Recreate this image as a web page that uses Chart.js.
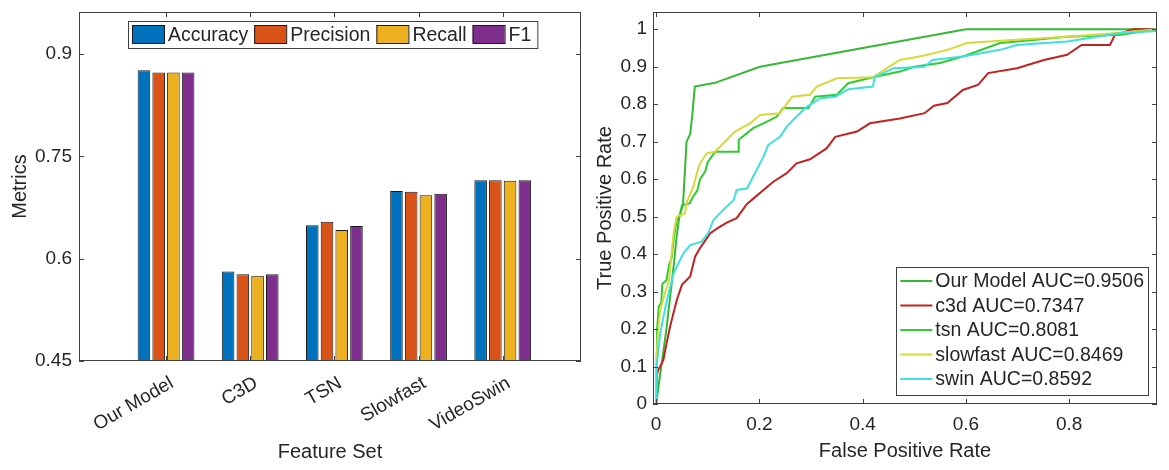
<!DOCTYPE html>
<html>
<head>
<meta charset="utf-8">
<script src="https://cdn.jsdelivr.net/npm/chart.js@4/dist/chart.umd.min.js"></script>
<style>
	body { margin: 0; background: #ffffff; }
	#barBox { position: absolute; left: 0; top: 0; width: 585px; height: 470px; }
	#rocBox { position: absolute; left: 585px; top: 0; width: 584px; height: 470px; }
</style>
</head>
<body>
<div id="barBox"><canvas id="barChart" width="585" height="470"></canvas></div>
<div id="rocBox"><canvas id="rocChart" width="584" height="470"></canvas></div>
<script>
// left panel: metrics per feature set
var featureSets = ["Our Model", "C3D", "TSN", "Slowfast", "VideoSwin"];
var metricNames = ["Accuracy", "Precision", "Recall", "F1"];
var accuracy  = [0.876, 0.581, 0.649, 0.699, 0.715];
var precision = [0.873, 0.577, 0.654, 0.698, 0.715];
var recall    = [0.873, 0.575, 0.642, 0.693, 0.714];
var f1        = [0.873, 0.577, 0.648, 0.695, 0.715];
var metricTicks = [0.45, 0.6, 0.75, 0.9];

// right panel: ROC curves, [fpr, tpr]
var rocNames = ["Our Model", "c3d", "tsn", "slowfast", "swin"];
var aucValues = [0.9506, 0.7347, 0.8081, 0.8469, 0.8592];
var ourModelRoc = [[0,0],[0.02,0.2],[0.035,0.38],[0.04,0.45],[0.045,0.5],[0.052,0.53],[0.059,0.7],[0.066,0.72],[0.07,0.77],[0.075,0.847],[0.114,0.857],[0.201,0.9],[0.6,1],[0.97,1]];
var c3dRoc = [[0,0],[0.002,0.08],[0.004,0.09],[0.014,0.117],[0.02,0.16],[0.027,0.206],[0.035,0.25],[0.04,0.277],[0.05,0.318],[0.066,0.34],[0.0755,0.393],[0.085,0.416],[0.105,0.456],[0.12,0.47],[0.137,0.484],[0.156,0.496],[0.176,0.534],[0.19,0.55],[0.208,0.571],[0.227,0.593],[0.253,0.616],[0.272,0.642],[0.298,0.653],[0.33,0.682],[0.347,0.713],[0.389,0.727],[0.414,0.749],[0.472,0.762],[0.52,0.776],[0.538,0.796],[0.564,0.803],[0.594,0.838],[0.624,0.852],[0.643,0.883],[0.699,0.896],[0.751,0.918],[0.796,0.932],[0.824,0.958],[0.879,0.958],[0.888,0.984],[0.924,1],[0.97,1]];
var tsnRoc = [[0,0],[0.002,0.2],[0.005,0.26],[0.01,0.27],[0.012,0.32],[0.02,0.33],[0.025,0.37],[0.03,0.39],[0.035,0.45],[0.04,0.49],[0.045,0.5],[0.05,0.53],[0.065,0.535],[0.07,0.55],[0.08,0.57],[0.085,0.6],[0.095,0.62],[0.1,0.645],[0.11,0.665],[0.115,0.673],[0.159,0.673],[0.16,0.705],[0.188,0.736],[0.21,0.75],[0.234,0.767],[0.246,0.79],[0.295,0.79],[0.308,0.82],[0.35,0.825],[0.372,0.856],[0.42,0.872],[0.472,0.887],[0.5,0.9],[0.55,0.91],[0.6,0.93],[0.666,0.963],[0.72,0.97],[0.795,0.98],[0.9,0.985],[0.97,1]];
var slowfastRoc = [[0,0],[0,0.1],[0.004,0.2],[0.008,0.251],[0.017,0.295],[0.025,0.33],[0.03,0.4],[0.034,0.456],[0.04,0.5],[0.056,0.509],[0.06,0.54],[0.072,0.58],[0.079,0.616],[0.085,0.642],[0.098,0.669],[0.114,0.673],[0.137,0.705],[0.153,0.727],[0.182,0.749],[0.201,0.771],[0.24,0.776],[0.263,0.82],[0.298,0.825],[0.311,0.847],[0.35,0.869],[0.42,0.872],[0.472,0.918],[0.52,0.93],[0.564,0.945],[0.602,0.963],[0.666,0.969],[0.796,0.98],[0.893,0.99],[0.97,1]];
var swinRoc = [[0,0],[0.001,0.1],[0.008,0.189],[0.021,0.278],[0.034,0.349],[0.043,0.375],[0.053,0.402],[0.066,0.424],[0.088,0.433],[0.101,0.456],[0.111,0.491],[0.13,0.518],[0.15,0.544],[0.156,0.571],[0.176,0.575],[0.188,0.607],[0.208,0.66],[0.217,0.691],[0.24,0.713],[0.253,0.74],[0.272,0.767],[0.292,0.793],[0.318,0.816],[0.347,0.82],[0.372,0.84],[0.42,0.847],[0.423,0.872],[0.46,0.896],[0.52,0.9],[0.535,0.918],[0.594,0.927],[0.666,0.945],[0.699,0.958],[0.796,0.967],[0.9,0.99],[0.97,0.995]];
var rocXTicks = [0, 0.2, 0.4, 0.6, 0.8];
var rocYTicks = [0, 0.1, 0.2, 0.3, 0.4, 0.5, 0.6, 0.7, 0.8, 0.9, 1];

var barColors = ["#0072BD", "#D95319", "#EDB120", "#7E2F8E"];
var rocColors = ["#36b836", "#c42222", "#2fcc2f", "#d8d83a", "#3ee0e0"];
var textColor = "#262626";
var frameColor = "#404040";
var fontFamily = "'Liberation Sans', Arial, sans-serif";

Chart.defaults.font.family = fontFamily;
Chart.defaults.color = textColor;

// Chart.js reserves room for half a label at the ends; the frame here does not need it
function noEdgePadding(axis)
{
	axis.paddingTop = 0;
	axis.paddingBottom = 0;
	axis.paddingLeft = 0;
	axis.paddingRight = 0;
}

function drawFrame(chart, xTicks, yTicks)
{
	var ctx = chart.ctx;
	var a = chart.chartArea;
	var xs = chart.scales.x;
	var ys = chart.scales.y;
	ctx.save();
	ctx.strokeStyle = frameColor;
	ctx.lineWidth = 1;
	ctx.strokeRect(a.left + 0.5, a.top + 0.5, a.right - a.left - 1, a.bottom - a.top - 1);
	ctx.beginPath();
	xTicks.forEach(function(v)
	{
		var px = Math.round(xs.getPixelForValue(v)) + 0.5;
		ctx.moveTo(px, a.bottom); ctx.lineTo(px, a.bottom - 5);
		ctx.moveTo(px, a.top); ctx.lineTo(px, a.top + 5);
	});
	yTicks.forEach(function(v)
	{
		var py = Math.round(ys.getPixelForValue(v)) + 0.5;
		ctx.moveTo(a.left, py); ctx.lineTo(a.left + 5, py);
		ctx.moveTo(a.right, py); ctx.lineTo(a.right - 5, py);
	});
	ctx.stroke();
	ctx.restore();
}

var barFrame = {
	id: "barFrame",
	afterDatasetsDraw: function(chart)
	{
		drawFrame(chart, featureSets.map(function(n, i) { return i + 1; }), metricTicks);
	},
	afterDraw: function(chart)
	{
		// legend box on top of the plot
		var ctx = chart.ctx;
		var a = chart.chartArea;
		ctx.save();
		ctx.font = "19.5px " + fontFamily;
		var left = a.left + 49, top = a.top + 9, height = 27;
		var x = left + 4;
		var items = [];
		metricNames.forEach(function(name, i)
		{
			items.push({ x: x, name: name, color: barColors[i] });
			x += 32 + 4 + ctx.measureText(name).width + 6;
		});
		var right = x;
		ctx.fillStyle = "#ffffff";
		ctx.fillRect(left, top, right - left, height);
		ctx.strokeStyle = frameColor;
		ctx.lineWidth = 1;
		ctx.strokeRect(left + 0.5, top + 0.5, right - left, height);
		items.forEach(function(it)
		{
			ctx.fillStyle = it.color;
			ctx.fillRect(it.x, top + 4, 32, 18);
			ctx.strokeStyle = "#1a1a1a";
			ctx.strokeRect(it.x + 0.5, top + 4.5, 32, 18);
			ctx.fillStyle = textColor;
			ctx.textBaseline = "middle";
			ctx.fillText(it.name, it.x + 36, top + height / 2 + 1);
		});
		ctx.restore();
	}
};

var rocFrame = {
	id: "rocFrame",
	afterDatasetsDraw: function(chart)
	{
		drawFrame(chart, rocXTicks, rocYTicks);
	},
	afterDraw: function(chart)
	{
		var ctx = chart.ctx;
		var a = chart.chartArea;
		ctx.save();
		ctx.font = "19.5px " + fontFamily;
		var labels = rocNames.map(function(n, i) { return n + " AUC=" + aucValues[i].toFixed(4); });
		var maxW = 0;
		labels.forEach(function(l) { maxW = Math.max(maxW, ctx.measureText(l).width); });
		var right = a.right - 9, bottom = a.bottom - 9;
		var width = 39 + maxW + 4, height = 128;
		var left = right - width, top = bottom - height;
		ctx.fillStyle = "#ffffff";
		ctx.fillRect(left, top, width, height);
		ctx.strokeStyle = frameColor;
		ctx.lineWidth = 1;
		ctx.strokeRect(Math.round(left) + 0.5, top + 0.5, Math.round(width), height);
		labels.forEach(function(l, i)
		{
			var y = top + 14 + i * 24.5;
			ctx.strokeStyle = rocColors[i];
			ctx.lineWidth = 2;
			ctx.beginPath();
			ctx.moveTo(left + 4, y);
			ctx.lineTo(left + 36, y);
			ctx.stroke();
			ctx.fillStyle = textColor;
			ctx.textBaseline = "middle";
			ctx.fillText(l, left + 39, y + 1);
		});
		ctx.restore();
	}
};

var metricSeries = [accuracy, precision, recall, f1];

new Chart(document.getElementById("barChart"), {
	type: "bar",
	data: {
		datasets: metricSeries.map(function(values, i)
		{
			return {
				label: metricNames[i],
				data: values.map(function(v, j) { return { x: j + 1, y: v }; }),
				backgroundColor: barColors[i],
				borderColor: "#1a1a1a",
				borderWidth: 1,
				borderSkipped: false,
				base: 0.45,
				categoryPercentage: 0.7,
				barPercentage: 0.855
			};
		})
	},
	options: {
		responsive: false,
		animation: false,
		layout: { padding: { top: 12, right: 4, left: 0, bottom: 0 } },
		plugins: { legend: { display: false }, tooltip: { enabled: false } },
		scales: {
			x: {
				type: "linear",
				offset: false,
				min: -0.034,
				max: 5.93,
				grid: { display: false, drawTicks: false },
				border: { display: false },
				afterBuildTicks: function(axis) { axis.ticks = featureSets.map(function(n, i) { return { value: i + 1 }; }); },
				afterFit: function(axis) { axis.height = 109; noEdgePadding(axis); },
				ticks: {
					autoSkip: false,
					minRotation: 30,
					maxRotation: 30,
					padding: 11,
					labelOffset: 6,
					color: textColor,
					font: { size: 19 },
					callback: function(v) { return featureSets[v - 1]; }
				},
				title: { display: true, text: "Feature Set", color: textColor, font: { size: 20 }, padding: { top: 0, bottom: 6 } }
			},
			y: {
				min: 0.45,
				max: 0.9615,
				grid: { display: false, drawTicks: false },
				border: { display: false },
				afterBuildTicks: function(axis) { axis.ticks = metricTicks.map(function(v) { return { value: v }; }); },
				afterFit: function(axis) { axis.width = 79; noEdgePadding(axis); },
				ticks: {
					padding: 7,
					color: textColor,
					font: { size: 19 },
					callback: function(v) { return String(v); }
				},
				title: { display: true, text: "Metrics", color: textColor, font: { size: 20 }, padding: { top: 8, bottom: 0 } }
			}
		}
	},
	plugins: [barFrame]
});

var rocSeries = [ourModelRoc, c3dRoc, tsnRoc, slowfastRoc, swinRoc];

new Chart(document.getElementById("rocChart"), {
	type: "line",
	data: {
		datasets: rocSeries.map(function(points, i)
		{
			return {
				label: rocNames[i],
				data: points.map(function(p) { return { x: p[0], y: p[1] }; }),
				borderColor: rocColors[i],
				borderWidth: 2,
				pointRadius: 0,
				tension: 0,
				fill: false,
				order: rocSeries.length - i
			};
		})
	},
	options: {
		responsive: false,
		animation: false,
		layout: { padding: { top: 12, right: 12, left: 0, bottom: 0 } },
		plugins: { legend: { display: false }, tooltip: { enabled: false } },
		scales: {
			x: {
				type: "linear",
				min: -0.006,
				max: 0.97,
				grid: { display: false, drawTicks: false },
				border: { display: false },
				afterBuildTicks: function(axis) { axis.ticks = rocXTicks.map(function(v) { return { value: v }; }); },
				afterFit: function(axis) { axis.height = 66; noEdgePadding(axis); },
				ticks: {
					padding: 9,
					maxRotation: 0,
					color: textColor,
					font: { size: 19 },
					callback: function(v) { return String(v); }
				},
				title: { display: true, text: "False Positive Rate", color: textColor, font: { size: 20 }, padding: { top: 0, bottom: 7 } }
			},
			y: {
				min: 0,
				max: 1.046,
				grid: { display: false, drawTicks: false },
				border: { display: false },
				afterBuildTicks: function(axis) { axis.ticks = rocYTicks.map(function(v) { return { value: v }; }); },
				afterFit: function(axis) { axis.width = 68; noEdgePadding(axis); },
				ticks: {
					padding: 6,
					color: textColor,
					font: { size: 19 },
					callback: function(v) { return String(v); }
				},
				title: { display: true, text: "True Positive Rate", color: textColor, font: { size: 20 }, padding: { top: 8, bottom: 0 } }
			}
		}
	},
	plugins: [rocFrame]
});
</script>
</body>
</html>
